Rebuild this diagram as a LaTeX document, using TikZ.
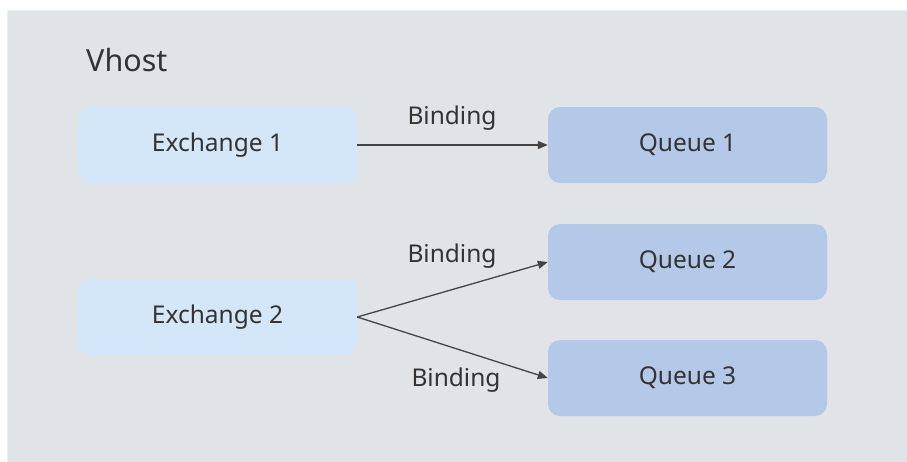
\documentclass[tikz,border=0pt]{standalone}
\usepackage{fontspec}
\setmainfont{Noto Sans}
\usetikzlibrary{arrows.meta}
\definecolor{panel}{HTML}{E1E4E6}
\definecolor{panelline}{HTML}{EEEFF0}
\definecolor{exfill}{HTML}{D3E7F9}
\definecolor{qfill}{HTML}{B4C8E7}
\definecolor{txt}{HTML}{333333}
\definecolor{arr}{HTML}{444444}
\tikzset{
  box/.style={rounded corners=12pt, minimum width=279pt, minimum height=76pt, inner sep=0pt, text=txt, font=\fontsize{24.5}{26}\selectfont},
  exbox/.style={box, fill=exfill},
  qbox/.style={box, fill=qfill},
  lbl/.style={text=txt, font=\fontsize{24.5}{26}\selectfont, inner sep=0pt},
  conn/.style={draw=arr, line width=1.3pt, -{Triangle[length=10pt,width=8pt]}},
}
\begin{document}
\begin{tikzpicture}[x=1pt,y=-1pt]
\useasboundingbox (0,0) rectangle (907,461);
\fill[white] (0,0) rectangle (907,461);
\draw[fill=panel, draw=panelline, line width=1pt] (7.5,10.5) rectangle (910,470);
\node[lbl, anchor=west, font=\fontsize{30.5}{32}\selectfont] (vhost) at (86,60) {Vhost};
\node[exbox] (ex1) at (217.5,145) {Exchange 1};
\node[exbox] (ex2) at (217.5,317) {Exchange 2};
\node[qbox] (q1) at (687.5,145) {Queue 1};
\node[qbox] (q2) at (687.5,262) {Queue 2};
\node[qbox] (q3) at (687.5,378) {Queue 3};
\draw[conn] (ex1.east) -- (q1.west);
\draw[conn] (ex2.east) -- (q2.west);
\draw[conn] (ex2.east) -- (q3.west);
\node[lbl] (b1) at (452,118) {Binding};
\node[lbl] (b2) at (452,256) {Binding};
\node[lbl] (b3) at (456,380) {Binding};
\end{tikzpicture}
\end{document}
